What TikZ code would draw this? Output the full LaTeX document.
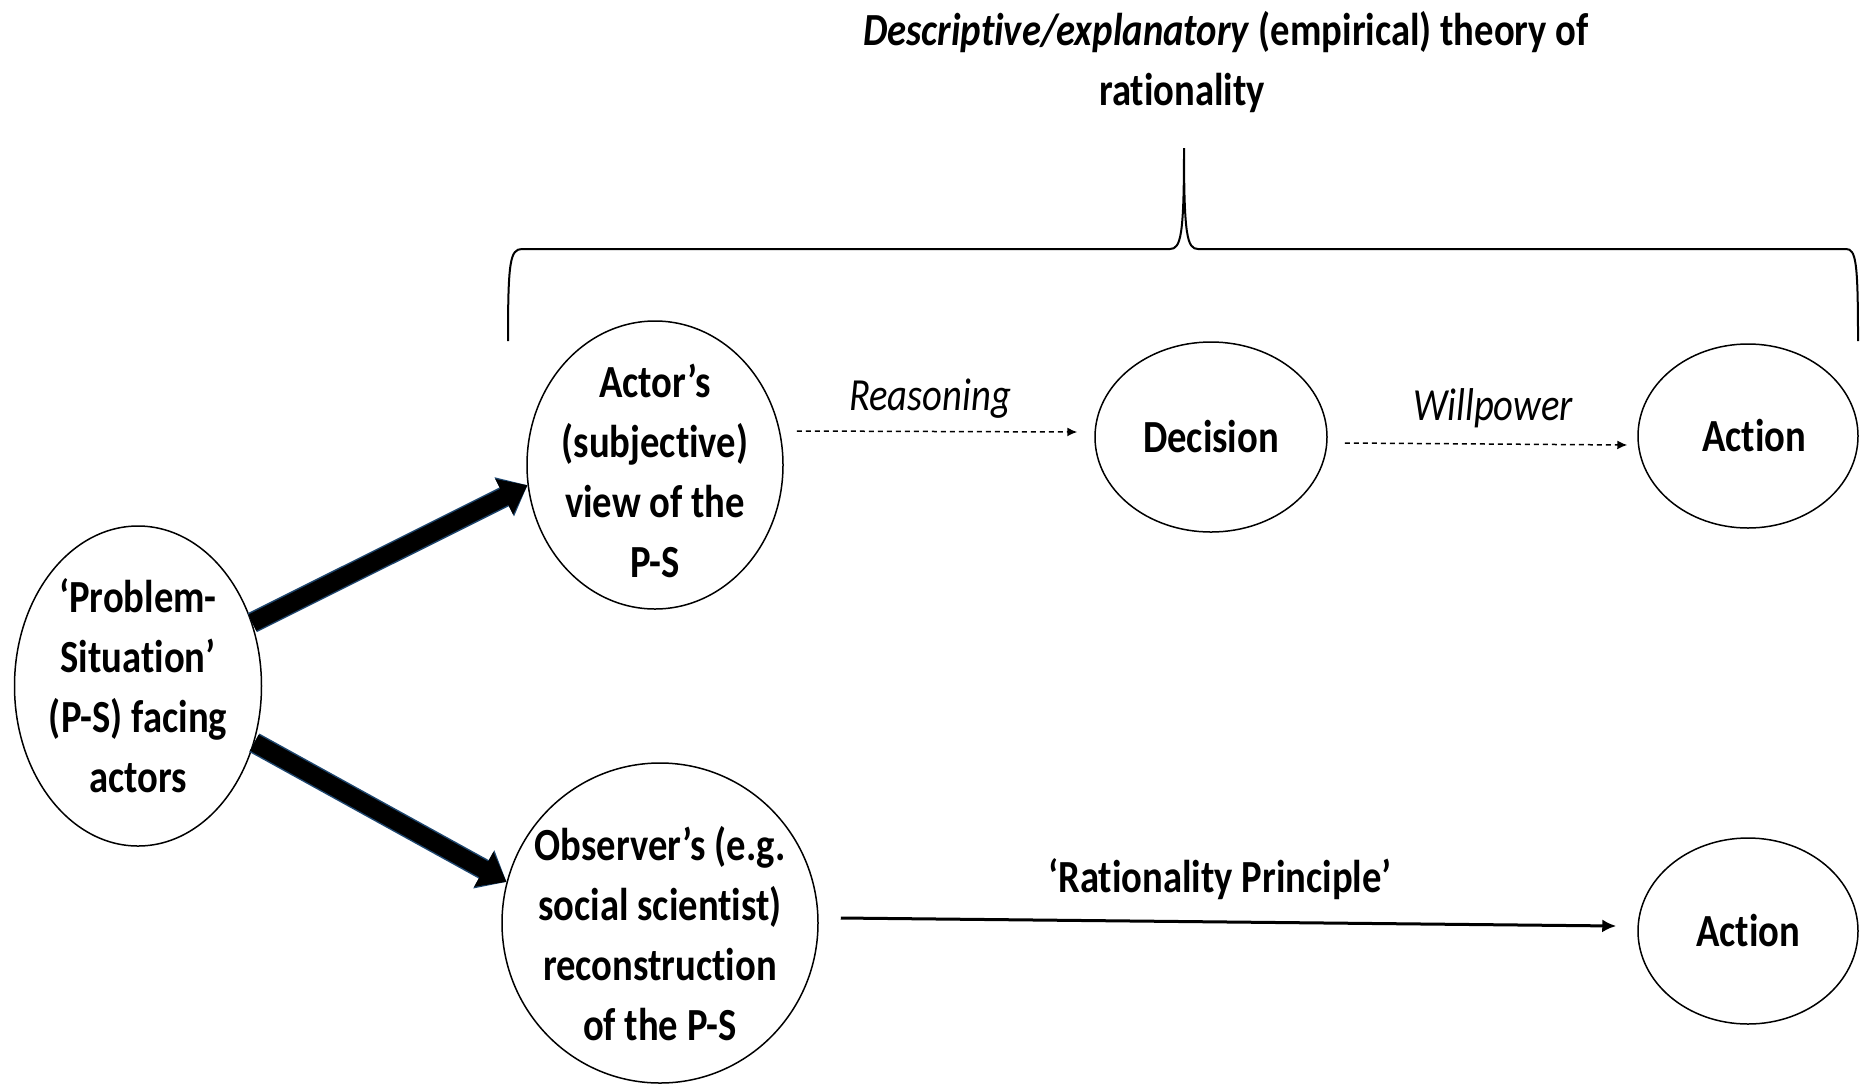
\documentclass[tikz,border=0pt]{standalone}
\usepackage{fontspec}
\setmainfont{Carlito}[FakeStretch=0.84, Ligatures=NoCommon]
\usetikzlibrary{shapes.geometric,arrows.meta,calc}
\begin{document}
\begin{tikzpicture}[x=1pt,y=-1pt,
  oval/.style={draw, ellipse, line width=1.5pt, inner sep=0pt},
  ovaltext/.style={align=center, inner sep=0pt, font=\bfseries\fontsize{46}{60}\selectfont},
  lbl/.style={font=\itshape\fontsize{46}{56}\selectfont},
  boldlbl/.style={font=\bfseries\fontsize{46}{56}\selectfont},
  bigarrow/.style={line width=18pt, -{Triangle[length=26pt,width=38pt]},
    preaction={draw={rgb,255:red,30;green,70;blue,110}, line width=21pt, -{Triangle[length=26pt,width=42pt]}}},
  dasharrow/.style={dash pattern=on 5pt off 4pt, line width=1.5pt, -{Latex[length=10pt,width=9pt]}},
  solidarrow/.style={line width=3pt, -{Latex[length=14pt,width=13pt]}},
  bracestyle/.style={line width=2pt},
]
\useasboundingbox (0,0) rectangle (1862,1085);

% nodes
\node[oval, minimum width=247pt, minimum height=320pt,
  label={[ovaltext]center:‘Problem-\\Situation’\\(P-S) facing\\actors}] (ps) at (138,686) {};
\node[oval, minimum width=256pt, minimum height=288pt,
  label={[ovaltext, yshift=-6pt]center:Actor’s\\(subjective)\\view of the\\P-S}] (actor) at (655,465) {};
\node[oval, minimum width=232pt, minimum height=190pt,
  label={[ovaltext]center:Decision}] (dec) at (1211,437) {};
\node[oval, minimum width=220pt, minimum height=184pt,
  label={[ovaltext, xshift=6pt]center:Action}] (act1) at (1748,436) {};
\node[oval, minimum width=316pt, minimum height=320pt,
  label={[ovaltext, yshift=-11pt]center:Observer’s (e.g.\\social scientist)\\reconstruction\\of the P-S}] (obs) at (660,923) {};
\node[oval, minimum width=220pt, minimum height=186pt,
  label={[ovaltext]center:Action}] (act2) at (1748,931) {};

% labels
\node[lbl] (reas) at (930,399) {Reasoning};
\node[lbl] (will) at (1493,408) {Willpower};
\node[boldlbl] (rp) at (1220,879) {‘Rationality Principle’};
\node[boldlbl] (t1) at (1226,32) {\textit{Descriptive/explanatory} (empirical) theory of};
\node[boldlbl] (t2) at (1182,93) {rationality};

% brace
\draw[bracestyle] (508,341) .. controls (508,262) and (510,249) .. (522,249) -- (1170,249)
  .. controls (1181,249) and (1184,235) .. (1184,148)
  .. controls (1184,235) and (1187,249) .. (1198,249) -- (1846,249)
  .. controls (1856,249) and (1858,262) .. (1858,341);

% connectors
\draw[bigarrow] (ps.29) -- (actor.189);
\draw[bigarrow] (ps.-26) -- (obs.165);
\draw[dasharrow] ($(actor.east)+(13,-34)$) -- ($(dec.west)+(-17,-5)$);
\draw[dasharrow] ($(dec.east)+(17,6)$) -- ($(act1.west)+(-10,9)$);
\draw[solidarrow] ($(obs.east)+(22,-5)$) -- ($(act2.west)+(-21,-5)$);
\end{tikzpicture}
\end{document}
